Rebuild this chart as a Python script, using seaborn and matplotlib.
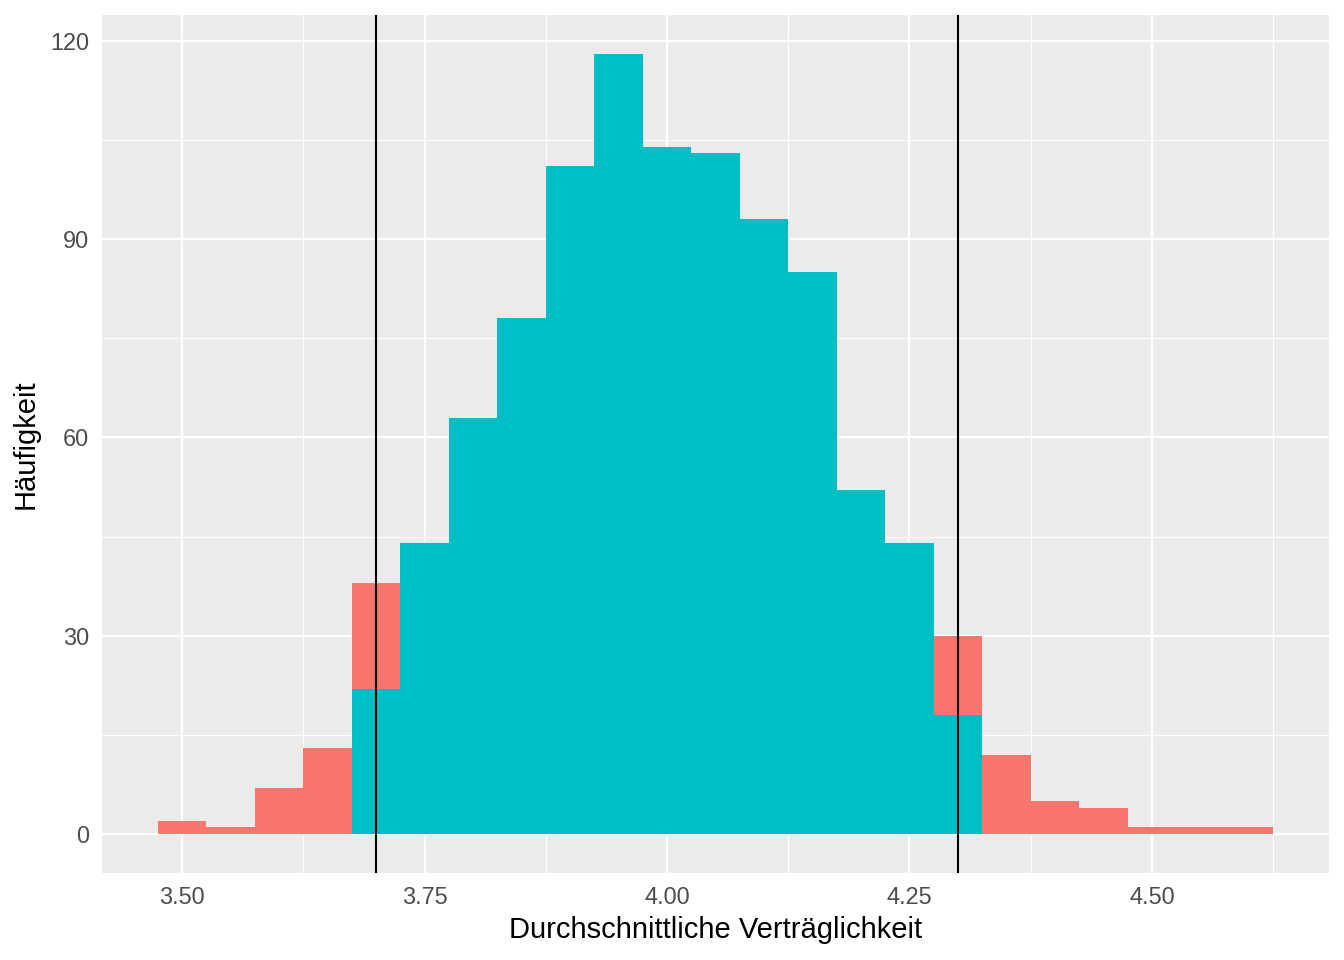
import numpy as np
import pandas as pd
import matplotlib
matplotlib.use("Agg")
import matplotlib.pyplot as plt
import seaborn as sns

# ---- data ----
bin_centers = [3.50, 3.55, 3.60, 3.65, 3.70, 3.75, 3.80, 3.85, 3.90, 3.95, 4.00, 4.05,
               4.10, 4.15, 4.20, 4.25, 4.30, 4.35, 4.40, 4.45, 4.50, 4.55, 4.60]
innerhalb = [0, 0, 0, 0, 22, 44, 63, 78, 101, 118, 104, 103,
             93, 85, 52, 44, 18, 0, 0, 0, 0, 0, 0]
ausserhalb = [2, 1, 7, 13, 16, 0, 0, 0, 0, 0, 0, 0,
              0, 0, 0, 0, 12, 12, 5, 4, 1, 1, 1]
grenzen = [3.70, 4.30]
x_ticks = [3.50, 3.75, 4.00, 4.25, 4.50]
x_tick_labels = ["3.50", "3.75", "4.00", "4.25", "4.50"]
y_ticks = [0, 30, 60, 90, 120]
x_label = "Durchschnittliche Verträglichkeit"
y_label = "Häufigkeit"

rows = []
for c, a, b in zip(bin_centers, ausserhalb, innerhalb):
    if a > 0:
        rows.append({"wert": c, "n": a, "gruppe": "außerhalb"})
    if b > 0:
        rows.append({"wert": c, "n": b, "gruppe": "innerhalb"})
df = pd.DataFrame(rows)

centers = np.array(bin_centers)
width = centers[1] - centers[0]
edges = [float(e) for e in np.concatenate([centers - width / 2, [centers[-1] + width / 2]])]

sns.set_theme(style="darkgrid")
plt.rcParams["font.family"] = ["Liberation Sans", "DejaVu Sans"]

fig = plt.figure(figsize=(13.44, 9.6), dpi=100)
ax = fig.add_axes([102 / 1344, 1 - 873 / 960, (1329 - 102) / 1344, (873 - 15) / 960])
ax.set_facecolor("#EBEBEB")

sns.histplot(data=df, x="wert", weights="n", hue="gruppe",
             hue_order=["außerhalb", "innerhalb"],
             palette={"außerhalb": "#F8766D", "innerhalb": "#00BFC4"},
             multiple="stack", bins=edges, alpha=1, linewidth=0,
             legend=False, ax=ax, zorder=2)

for g in grenzen:
    ax.axvline(g, color="black", lw=1.5, zorder=3)

# limits with ggplot-like 5% expansion
xr = edges[-1] - edges[0]
ax.set_xlim(edges[0] - 0.05 * xr, edges[-1] + 0.05 * xr)
ymax = max(a + b for a, b in zip(ausserhalb, innerhalb))
ax.set_ylim(-0.05 * ymax, ymax * 1.05)

ax.set_xticks(x_ticks)
ax.set_xticklabels(x_tick_labels)
ax.set_yticks(y_ticks)
ax.set_xticks([3.625, 3.875, 4.125, 4.375, 4.625], minor=True)
ax.set_yticks([15, 45, 75, 105], minor=True)

ax.grid(which="major", color="white", lw=1.6, zorder=0)
ax.grid(which="minor", color="white", lw=0.8, zorder=0)
ax.set_axisbelow(True)

ax.tick_params(axis="both", which="major", length=5.3, width=1.4, color="#333333",
               labelsize=16.9, labelcolor="#4D4D4D", pad=4.2)
ax.tick_params(axis="both", which="minor", length=0)
for s in ax.spines.values():
    s.set_visible(False)

ax.set_xlabel(x_label, fontsize=21, color="black", labelpad=5)
ax.set_ylabel(y_label, fontsize=21, color="black", labelpad=7)

fig.savefig("out.png", dpi=100, facecolor="white")
